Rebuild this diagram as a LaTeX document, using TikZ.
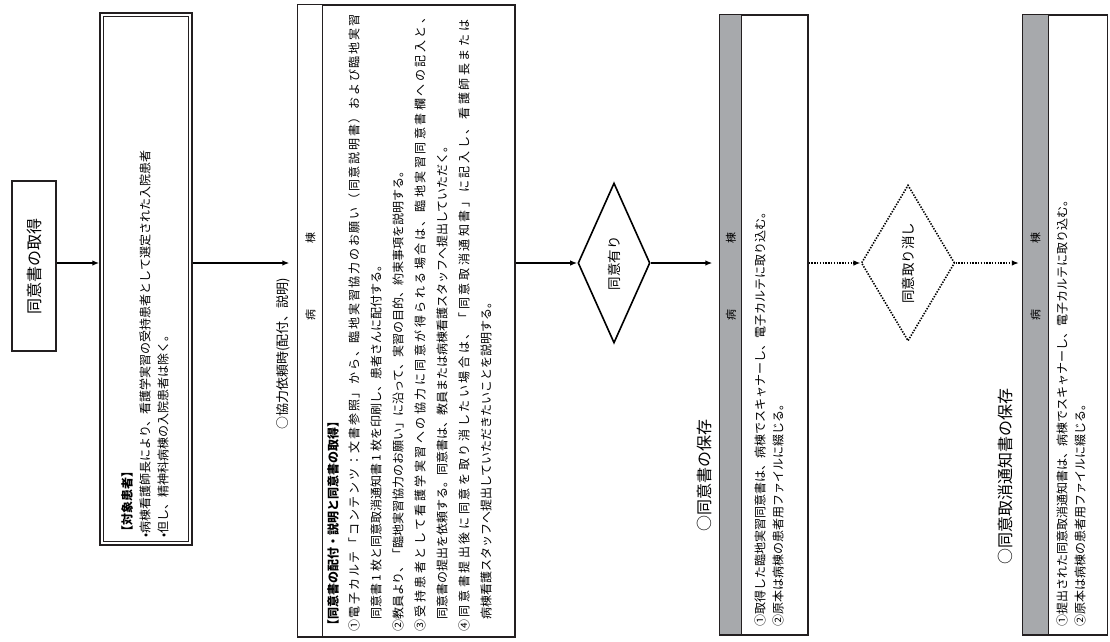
\documentclass[tikz,border=0pt]{standalone}
\usepackage{fontspec}
\newfontfamily\jp{Noto Sans CJK JP}
\usetikzlibrary{positioning,shapes.geometric,arrows.meta}
\definecolor{LineDark}{RGB}{35,31,32}
\definecolor{HeadGray}{RGB}{167,169,172}
\ExplSyntaxOn
\NewDocumentCommand\spread{mm}{\makebox[#1][s]{\tl_map_inline:nn{#2}{##1\hskip0pt plus 1fil}\unskip}}
\ExplSyntaxOff
\tikzset{
  box/.style={draw=LineDark,line width=1.3pt,inner sep=0pt},
  inbox/.style={draw=LineDark,line width=0.7pt,inner sep=0pt},
  head/.style={draw=LineDark,line width=1.1pt,inner sep=0pt,anchor=north west},
  dia/.style={diamond,draw=black,line width=1.6pt,inner sep=0pt,font=\jp\fontsize{13.5}{15}\selectfont},
  arr/.style={draw=black,line width=1.6pt,-{Latex[length=7pt,width=5.5pt]}},
  dotline/.style={dash pattern=on 1.4pt off 1.4pt},
  tline/.style={rotate=90,anchor=west,inner sep=0pt,font=\jp\fontsize{12}{14}\selectfont},
  ttl/.style={tline,font=\jp\fontsize{16}{18}\selectfont},
  htxt/.style={rotate=90,inner sep=0pt,font=\jp\fontsize{11}{13}\selectfont},
}
\begin{document}
\begin{tikzpicture}[x=1pt,y=-1pt]
\useasboundingbox (0,0) rectangle (1110,641);
\coordinate (axis) at (0,263);

% start box
\node[box,minimum width=44pt,minimum height=170pt,font=\jp\fontsize{16}{18}\selectfont] (get) at (34,266) {\rotatebox{90}{同意書の取得}};

% target patients
\node[box,line width=1.5pt,minimum width=92pt,minimum height=532pt] (target) at (146,279) {};
\node[inbox,minimum width=85pt,minimum height=525pt] (targetin) at (target.center) {};
\node[tline] (tgt0) at (127,538) {\bfseries【対象患者】};
\node[tline] (tgt1) at (145,538) {•病棟看護師長により、看護学実習の受持患者として選定された入院患者};
\node[tline] (tgt2) at (163,538) {•但し、精神科病棟の入院患者は除く。};

% request
\node[ttl,font=\jp\fontsize{13}{15}\selectfont] (reqttl) at (283,430) {○協力依頼時(配付、説明)};
\node[box,minimum width=217pt,minimum height=632pt] (request) at (406.5,321) {};
\node[head,fill=white,minimum width=25pt,minimum height=632pt] (reqhead) at (request.north west) {};
\node[htxt] (reqbyo) at (reqhead.center |- 0,315) {病};
\node[htxt] (reqto) at (reqhead.center |- 0,238) {棟};
\node[tline] (req0) at (333,632) {\bfseries【同意書の配付・説明と同意書の取得】};
\node[tline] (req1) at (354,632) {\spread{617pt}{①電子カルテ「コンテンツ：文書参照」から、臨地実習協力のお願い（同意説明書）および臨地実習}};
\node[tline] (req2) at (376,620) {同意書 1 枚と同意取消通知書 1 枚を印刷し、患者さんに配付する。};
\node[tline] (req3) at (398,632) {②教員より、「臨地実習協力のお願い」に沿って、実習の目的、約束事項を説明する。};
\node[tline] (req4) at (420,632) {\spread{620pt}{③受持患者として看護学実習への協力に同意が得られる場合は、臨地実習同意書欄への記入と、}};
\node[tline] (req5) at (442,620) {同意書の提出を依頼する。同意書は、教員または病棟看護スタッフへ提出していただく。};
\node[tline] (req6) at (464,632) {\spread{612pt}{④同意書提出後に同意を取り消したい場合は、「同意取消通知書」に記入し、看護師長または}};
\node[tline] (req7) at (486,620) {病棟看護スタッフへ提出していただきたいことを説明する。};

% consent given
\node[dia,minimum width=72pt,minimum height=160pt] (yes) at (614,263) {\rotatebox{90}{同意有り}};

% keeping the consent form
\node[ttl] (keepttl) at (704,532) {○同意書の保存};
\node[box,minimum width=88pt,minimum height=620pt] (keep) at (764,325) {};
\node[head,fill=HeadGray,minimum width=22pt,minimum height=620pt] (keephead) at (keep.north west) {};
\node[htxt] (keepbyo) at (keephead.center |- 0,315) {病};
\node[htxt] (keepto) at (keephead.center |- 0,238) {棟};
\node[tline] (keep1) at (760,627) {①取得した臨地実習同意書は、病棟でスキャナーし、電子カルテに取り込む。};
\node[tline] (keep2) at (778,627) {②原本は病棟の患者用ファイルに綴じる。};

% consent withdrawn
\node[dia,dotline,minimum width=76pt,minimum height=156pt] (no) at (908,263) {\rotatebox{90}{同意取り消し}};

% keeping the withdrawal notice
\node[ttl] (cancelttl) at (1005,565) {○同意取消通知書の保存};
\node[box,minimum width=85pt,minimum height=620pt] (cancel) at (1065,325) {};
\node[head,fill=HeadGray,minimum width=26pt,minimum height=620pt] (cancelhead) at (cancel.north west) {};
\node[htxt] (cancelbyo) at (cancelhead.center |- 0,315) {病};
\node[htxt] (cancelto) at (cancelhead.center |- 0,238) {棟};
\node[tline] (cancel1) at (1062,627) {①提出された同意取消通知書は、病棟でスキャナーし、電子カルテに取り込む。};
\node[tline] (cancel2) at (1080,627) {②原本は病棟の患者用ファイルに綴じる。};

% connectors
\draw[arr] (get.east |- axis) -- (target.west |- axis);
\draw[arr,shorten >=8pt] (target.east |- axis) -- (request.west |- axis);
\draw[arr] (request.east |- axis) -- (yes.west);
\draw[arr,shorten >=7pt] (yes.east) -- (keep.west |- axis);
\draw[arr,dotline] (keep.east |- axis) -- (no.west);
\draw[arr,dotline,shorten >=3pt] (no.east) -- (cancel.west |- axis);
\end{tikzpicture}
\end{document}
